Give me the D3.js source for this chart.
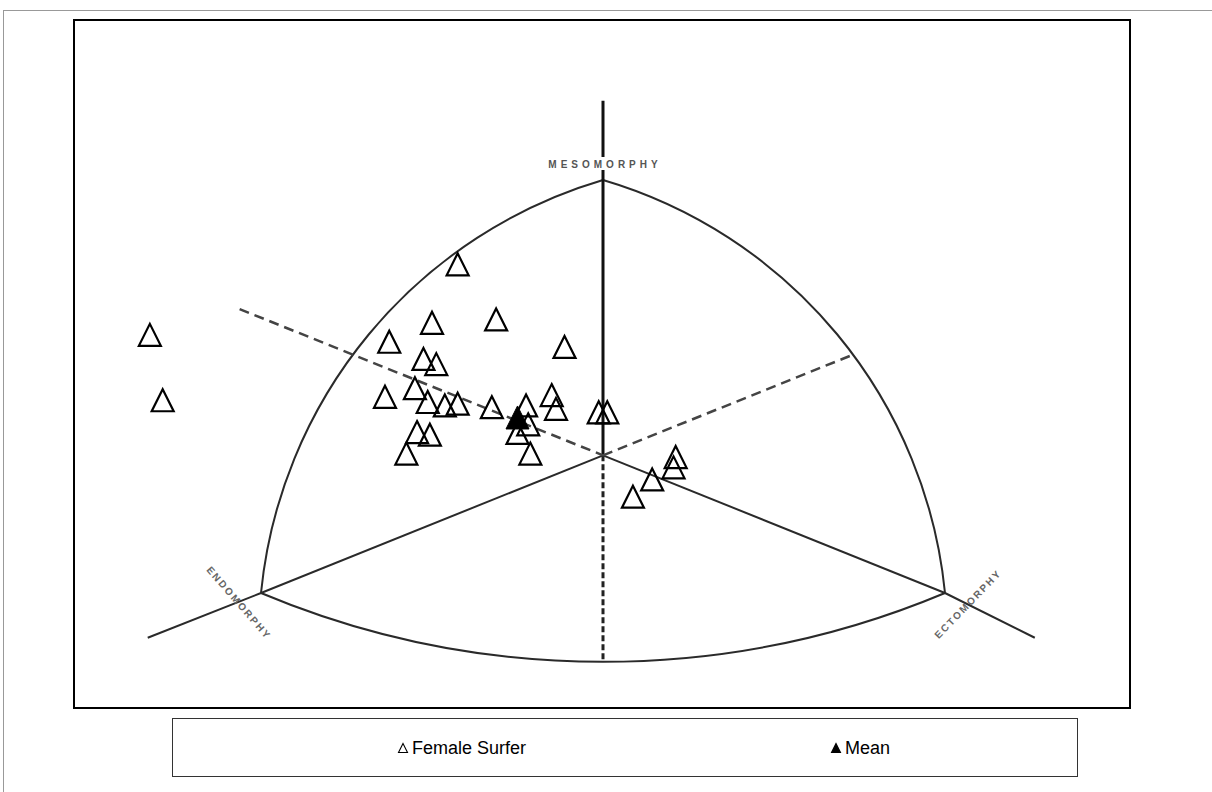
<!DOCTYPE html>
<html>
<head>
<meta charset="utf-8">
<script src="https://cdn.jsdelivr.net/npm/d3@7"></script>
<style>
  body { margin: 0; background: #fff; }
  svg { display: block; font-family: "Liberation Sans", Arial, sans-serif; }
</style>
</head>
<body>
<svg id="chart" width="1212" height="792"></svg>
<script>
// somatochart coordinates: X = ecto - endo, Y = 2*meso - (endo + ecto)
var surferX = [-10.6, -10.3, -3.4, -2.5, -4.0, -5.0, -0.9, -4.2, -3.9, -4.4,
               -5.1, -4.1, -3.7, -3.4, -2.6, -1.2, -1.1, -1.8, -0.1, 0.1,
               -1.75, -2.0, -4.35, -4.05, -4.6, -1.7, 1.7, 1.65, 1.15, 0.7];
var surferY = [7.0, 3.2, 11.1, 7.9, 7.7, 6.6, 6.3, 5.6, 5.3, 3.9,
               3.4, 3.1, 2.9, 3.0, 2.8, 3.5, 2.7, 2.9, 2.5, 2.5,
               1.8, 1.3, 1.35, 1.2, 0.1, 0.1, -0.1, -0.7, -1.4, -2.4];
var meanX = [-2.0];
var meanY = [2.2];

var axisLabels = ['MESOMORPHY', 'ENDOMORPHY', 'ECTOMORPHY'];
var legendLabels = ['Female Surfer', 'Mean'];

var svg = d3.select('#chart');

// outer frame and chart frame
svg.append('rect')
    .attr('x', 3.5).attr('y', 10.5)
    .attr('width', 1400).attr('height', 1000)
    .attr('fill', 'none').attr('stroke', '#999').attr('stroke-width', 1);

svg.append('rect')
    .attr('x', 74).attr('y', 20)
    .attr('width', 1056).attr('height', 688)
    .attr('fill', '#fff').attr('stroke', '#000').attr('stroke-width', 2);

var x = d3.scaleLinear().domain([-8, 8]).range([261, 945]);
var y = d3.scaleLinear().domain([-8, 16]).range([593, 180]);

var g = svg.append('g');

// arc through 3 points (in data units)
function arc3(p0, pm, p1) {
    var a = [x(p0[0]), y(p0[1])], b = [x(pm[0]), y(pm[1])], c = [x(p1[0]), y(p1[1])];
    var d = 2 * (a[0] * (b[1] - c[1]) + b[0] * (c[1] - a[1]) + c[0] * (a[1] - b[1]));
    var ux = ((a[0]*a[0] + a[1]*a[1]) * (b[1] - c[1]) + (b[0]*b[0] + b[1]*b[1]) * (c[1] - a[1]) + (c[0]*c[0] + c[1]*c[1]) * (a[1] - b[1])) / d;
    var uy = ((a[0]*a[0] + a[1]*a[1]) * (c[0] - b[0]) + (b[0]*b[0] + b[1]*b[1]) * (a[0] - c[0]) + (c[0]*c[0] + c[1]*c[1]) * (b[0] - a[0])) / d;
    var r = Math.hypot(a[0] - ux, a[1] - uy);
    var cross = (b[0] - a[0]) * (c[1] - a[1]) - (b[1] - a[1]) * (c[0] - a[0]);
    return 'M' + a[0] + ',' + a[1] + ' A' + r + ',' + r + ' 0 0 ' + (cross > 0 ? 1 : 0) + ' ' + c[0] + ',' + c[1];
}

var line = d3.line().x(function (d) { return x(d[0]); }).y(function (d) { return y(d[1]); });

var endo = [-8, -8], ecto = [8, -8], meso = [0, 16], ctr = [0, 0];

// arcs
[[endo, [-5.85, 5.85], meso], [meso, [5.85, 5.85], ecto], [endo, [0, -12], ecto]].forEach(function (p) {
    g.append('path')
        .attr('d', arc3(p[0], p[1], p[2]))
        .attr('fill', 'none').attr('stroke', '#2a2a2a').attr('stroke-width', 2);
});

// axes
function seg(pts, w, dash, col) {
    g.append('path')
        .attr('d', line(pts))
        .attr('fill', 'none')
        .attr('stroke', col || '#2a2a2a')
        .attr('stroke-width', w)
        .attr('stroke-dasharray', dash || null);
}
seg([[0, 20.6], ctr], 3, null, '#111');
seg([ctr, [0, -12]], 3, '6,3', '#222');
seg([ctr, endo], 2);
seg([ctr, ecto], 2);
seg([[-8.5, 8.5], ctr], 2.5, '10,6', '#444');
seg([ctr, [5.85, 5.85]], 2.5, '10,6', '#444');
seg([endo, [-10.65, -10.6]], 2);
seg([ecto, [10.1, -10.6]], 2);

// axis labels
var meso_lbl = g.append('g');
meso_lbl.append('rect')
    .attr('x', x(0) - 60).attr('y', 157)
    .attr('width', 120).attr('height', 13)
    .attr('fill', '#fff');
meso_lbl.append('text')
    .attr('x', x(0) + 2).attr('y', 168)
    .attr('text-anchor', 'middle')
    .attr('font-size', 10).attr('font-weight', 'bold')
    .attr('letter-spacing', 4)
    .attr('fill', '#555')
    .text(axisLabels[0]);

g.append('text')
    .attr('transform', 'translate(' + (x(endo[0]) - 22) + ',' + (y(endo[1]) + 10) + ') rotate(49)')
    .attr('text-anchor', 'middle').attr('dy', '0.35em')
    .attr('font-size', 10).attr('font-weight', 'bold')
    .attr('letter-spacing', 2)
    .attr('fill', '#666')
    .text(axisLabels[1]);

g.append('text')
    .attr('transform', 'translate(' + (x(ecto[0]) + 23) + ',' + (y(ecto[1]) + 11) + ') rotate(-46)')
    .attr('text-anchor', 'middle').attr('dy', '0.35em')
    .attr('font-size', 10).attr('font-weight', 'bold')
    .attr('letter-spacing', 2)
    .attr('fill', '#666')
    .text(axisLabels[2]);

// tall triangle marker, centred on its bounding box
var triUp = {
    draw: function (ctx, size) {
        var h = Math.sqrt(size);
        ctx.moveTo(0, -h / 2);
        ctx.lineTo(h / 2, h / 2);
        ctx.lineTo(-h / 2, h / 2);
        ctx.closePath();
    }
};

var pts = surferX.map(function (v, i) { return { x: v, y: surferY[i] }; });

g.selectAll('.surfer')
    .data(pts)
    .enter()
    .append('path')
    .attr('class', 'surfer')
    .attr('transform', function (d) { return 'translate(' + x(d.x) + ',' + y(d.y) + ')'; })
    .attr('d', d3.symbol().type(triUp).size(22 * 22))
    .attr('fill', 'none').attr('stroke', '#000').attr('stroke-width', 2.2);

g.selectAll('.mean')
    .data(meanX.map(function (v, i) { return { x: v, y: meanY[i] }; }))
    .enter()
    .append('path')
    .attr('class', 'mean')
    .attr('transform', function (d) { return 'translate(' + x(d.x) + ',' + y(d.y) + ')'; })
    .attr('d', d3.symbol().type(triUp).size(23 * 23))
    .attr('fill', '#000').attr('stroke', '#000').attr('stroke-width', 1);

// legend
var lg = svg.append('g');
lg.append('rect')
    .attr('x', 172.5).attr('y', 718.5)
    .attr('width', 905).attr('height', 58)
    .attr('fill', '#fff').attr('stroke', '#333').attr('stroke-width', 1);

var legendItems = [
    { label: legendLabels[0], x: 403, fill: 'none' },
    { label: legendLabels[1], x: 836, fill: '#000' }
];
var li = lg.selectAll('.item')
    .data(legendItems)
    .enter()
    .append('g')
    .attr('class', 'item')
    .attr('transform', function (d) { return 'translate(' + d.x + ',748)'; });
li.append('path')
    .attr('d', d3.symbol().type(triUp).size(81))
    .attr('fill', function (d) { return d.fill; })
    .attr('stroke', '#000').attr('stroke-width', 1.1);
li.append('text')
    .attr('x', 9).attr('y', 6)
    .attr('font-size', 18)
    .attr('fill', '#000')
    .text(function (d) { return d.label; });
</script>
</body>
</html>
